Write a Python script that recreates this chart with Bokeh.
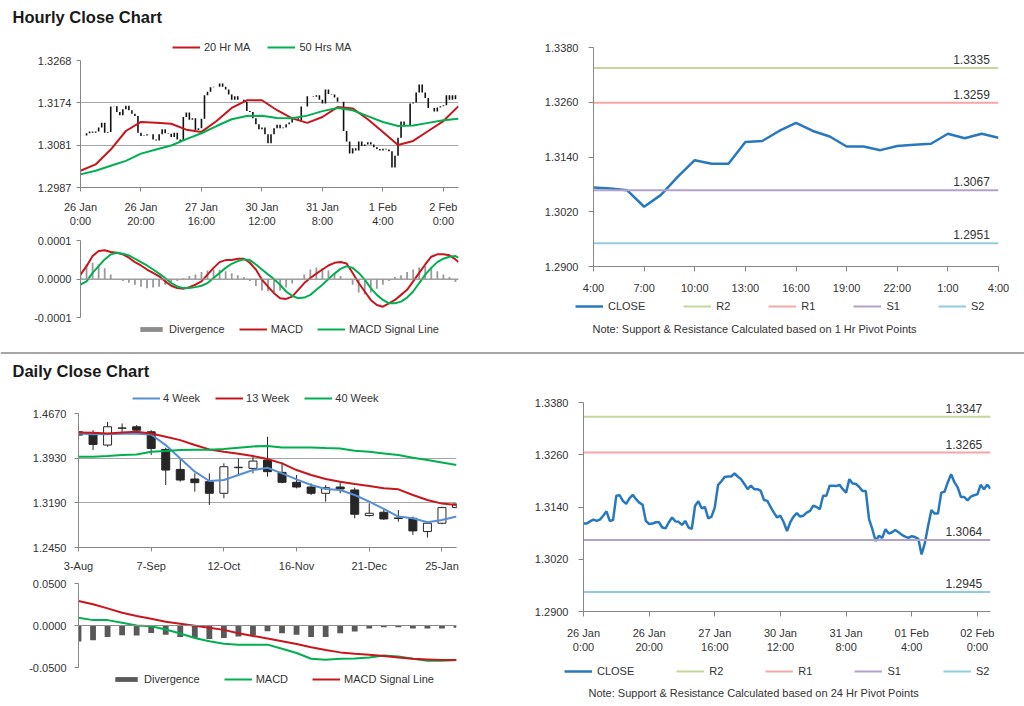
from bokeh.plotting import figure
from bokeh.models import Range1d, NumeralTickFormatter, Legend, LegendItem, Span, Label
from bokeh.layouts import column, row
from bokeh.embed import file_html
from bokeh.resources import INLINE
from bokeh.core.properties import value

# ---------------- data: hourly ----------------
hourly_close = [
    1.3102, 1.3102, 1.3107, 1.3111, 1.3108, 1.3111, 1.3120, 1.3130, 1.3108, 1.3110,
    1.3166, 1.3167, 1.3154, 1.3147, 1.3160, 1.3168, 1.3158, 1.3150, 1.3145, 1.3108,
    1.3101, 1.3102, 1.3105, 1.3105, 1.3093, 1.3091, 1.3105, 1.3116, 1.3107, 1.3106,
    1.3099, 1.3108, 1.3093, 1.3090, 1.3143, 1.3153, 1.3137, 1.3140, 1.3114, 1.3118,
    1.3139, 1.3191, 1.3199, 1.3209, 1.3210, 1.3210, 1.3217, 1.3210, 1.3204, 1.3193,
    1.3181, 1.3189, 1.3181, 1.3181, 1.3177, 1.3156, 1.3154, 1.3140, 1.3127, 1.3116,
    1.3120, 1.3105, 1.3085, 1.3105, 1.3118, 1.3126, 1.3118, 1.3120, 1.3127, 1.3131,
    1.3143, 1.3140, 1.3135, 1.3166, 1.3166, 1.3189, 1.3189, 1.3188, 1.3191, 1.3181,
    1.3173, 1.3204, 1.3194, 1.3193, 1.3186, 1.3177, 1.3177, 1.3112, 1.3089, 1.3062,
    1.3074, 1.3069, 1.3089, 1.3079, 1.3082, 1.3087, 1.3082, 1.3076, 1.3072, 1.3069,
    1.3073, 1.3071, 1.3067, 1.3031, 1.3057, 1.3097, 1.3133, 1.3125, 1.3125, 1.3173,
    1.3175, 1.3197, 1.3215, 1.3197, 1.3185, 1.3163, 1.3163, 1.3155, 1.3164, 1.3167,
    1.3169, 1.3191, 1.3181, 1.3191, 1.3182,
]
hourly_hours = list(range(len(hourly_close)))
hourly_tick_hours = [0, 20, 40, 60, 80, 100, 120]
hourly_labels_a = ["26 Jan\n0:00", "26 Jan\n20:00", "27 Jan\n16:00", "30 Jan\n12:00",
                   "31 Jan\n8:00", "1 Feb\n4:00", "2 Feb\n0:00"]
hourly_labels_f = ["26 Jan\n0:00", "26 Jan\n20:00", "27 Jan\n16:00", "30 Jan\n12:00",
                   "31 Jan\n8:00", "01 Feb\n4:00", "02 Feb\n0:00"]
hourly_price_ticks = [1.2987, 1.3081, 1.3174, 1.3268]

ma_hours = [0, 5, 10, 15, 20, 25, 30, 35, 40, 45, 50, 55, 60, 65, 70, 75, 80, 85, 90,
            95, 100, 105, 110, 115, 120, 125]
ma20 = [1.3024, 1.3038, 1.3071, 1.3112, 1.3132, 1.3130, 1.3128, 1.3115, 1.3110, 1.3134,
        1.3163, 1.3180, 1.3180, 1.3158, 1.3140, 1.3130, 1.3143, 1.3165, 1.3162, 1.3138,
        1.3110, 1.3081, 1.3090, 1.3112, 1.3134, 1.3167]
ma50 = [1.3016, 1.3024, 1.3035, 1.3046, 1.3062, 1.3071, 1.3080, 1.3094, 1.3107, 1.3123,
        1.3138, 1.3145, 1.3146, 1.3141, 1.3140, 1.3146, 1.3156, 1.3163, 1.3158, 1.3145,
        1.3132, 1.3123, 1.3124, 1.3130, 1.3136, 1.3139]

# MACD values in units of 0.0001
macd_hours = list(range(0, 125, 2)) + [125]
macd_h = [0.114, 0.333, 0.596, 0.728, 0.746, 0.702, 0.684, 0.640, 0.553, 0.439,
          0.351, 0.246, 0.158, 0.070, -0.061, -0.175, -0.237, -0.254, -0.211, -0.149,
          -0.061, 0.114, 0.289, 0.439, 0.491, 0.491, 0.526, 0.526, 0.421, 0.246,
          -0.018, -0.200, -0.368, -0.500, -0.518, -0.456, -0.281, -0.105, 0.026, 0.140,
          0.246, 0.351, 0.421, 0.439, 0.404, 0.158, -0.105, -0.325, -0.544, -0.675,
          -0.719, -0.632, -0.544, -0.412, -0.281, -0.061, 0.158, 0.377, 0.579, 0.640,
          0.640, 0.614, 0.509, 0.440]
signal_h = [-0.149, -0.061, 0.158, 0.333, 0.509, 0.640, 0.684, 0.658, 0.614, 0.526,
            0.439, 0.351, 0.246, 0.140, 0.026, -0.105, -0.193, -0.237, -0.237, -0.211,
            -0.175, -0.105, 0.026, 0.158, 0.289, 0.395, 0.465, 0.509, 0.491, 0.377,
            0.246, 0.120, 0.000, -0.149, -0.325, -0.439, -0.500, -0.482, -0.412, -0.281,
            -0.149, 0.000, 0.140, 0.263, 0.333, 0.289, 0.158, -0.018, -0.237, -0.412,
            -0.544, -0.632, -0.632, -0.588, -0.482, -0.325, -0.105, 0.114, 0.289, 0.439,
            0.526, 0.579, 0.596, 0.553]
div_hours = list(range(0, 125, 2))
divergence_h = [0.15, 0.38, 0.42, 0.38, 0.28, 0.12, 0.0, -0.05, -0.1, -0.15,
                -0.2, -0.24, -0.22, -0.2, -0.15, -0.1, -0.05, 0.02, 0.08, 0.12,
                0.18, 0.22, 0.25, 0.24, 0.2, 0.15, 0.1, 0.05, -0.05, -0.18,
                -0.3, -0.32, -0.35, -0.3, -0.22, -0.12, 0.0, 0.12, 0.25, 0.3,
                0.28, 0.22, 0.15, 0.08, 0.0, -0.15, -0.35, -0.4, -0.35, -0.25,
                -0.15, -0.05, 0.05, 0.1, 0.18, 0.25, 0.3, 0.33, 0.3, 0.2,
                0.12, 0.05, -0.08]
macd_ticks = [-1, 0, 1]
macd_tick_labels = ["-0.0001", "0.0000", "0.0001"]

# last 24 hours (1 Feb 4:00 -> 2 Feb 4:00)
last24_close = hourly_close[100:]
last24_hours = list(range(len(last24_close)))
last24_ticks = [0, 3, 6, 9, 12, 15, 18, 21, 24]
last24_labels = ["4:00", "7:00", "10:00", "13:00", "16:00", "19:00", "22:00", "1:00", "4:00"]

pivot_names = ["R2", "R1", "S1", "S2"]
pivot_1h = [1.3335, 1.3259, 1.3067, 1.2951]
pivot_24h = [1.3347, 1.3265, 1.3064, 1.2945]
pivot_ticks = [1.2900, 1.3020, 1.3140, 1.3260, 1.3380]

# ---------------- data: weekly ----------------
weeks = list(range(27))
week_ticks = [0, 5, 10, 15, 20, 25]
week_labels = ["3-Aug", "7-Sep", "12-Oct", "16-Nov", "21-Dec", "25-Jan"]
w_open = [1.4367, 1.4339, 1.4147, 1.4425, 1.4450, 1.4367, 1.4075, 1.3744, 1.3585, 1.3540,
          1.3348, 1.3772, 1.3761, 1.3899, 1.3695, 1.3530, 1.3452, 1.3348, 1.3452, 1.3403,
          1.2979, 1.3034, 1.2940, 1.2934, 1.2714, 1.2852, 1.3111]
w_high = [1.4450, 1.4394, 1.4532, 1.4505, 1.4477, 1.4394, 1.4103, 1.3926, 1.3678, 1.3678,
          1.3844, 1.3926, 1.3981, 1.4284, 1.3860, 1.3651, 1.3513, 1.3485, 1.3552, 1.3441,
          1.3182, 1.3100, 1.3072, 1.2962, 1.2879, 1.3127, 1.3182]
w_low = [1.4147, 1.4064, 1.4119, 1.4339, 1.4356, 1.3981, 1.3485, 1.3540, 1.3375, 1.3155,
         1.3265, 1.3651, 1.3678, 1.3623, 1.3513, 1.3430, 1.3320, 1.3210, 1.3348, 1.2934,
         1.2962, 1.2907, 1.2879, 1.2659, 1.2615, 1.2835, 1.3100]
w_close = [1.4312, 1.4158, 1.4450, 1.4431, 1.4394, 1.4091, 1.3733, 1.3568, 1.3524, 1.3348,
           1.3788, 1.3780, 1.3882, 1.3706, 1.3530, 1.3452, 1.3348, 1.3441, 1.3419, 1.3001,
           1.3017, 1.2923, 1.2930, 1.2725, 1.2852, 1.3111, 1.3171]
ma4w = [1.4339, 1.4328, 1.4328, 1.4334, 1.4334, 1.4323, 1.4147, 1.3926, 1.3706, 1.3552,
        1.3568, 1.3651, 1.3733, 1.3772, 1.3678, 1.3579, 1.3485, 1.3419, 1.3403, 1.3320,
        1.3210, 1.3089, 1.2962, 1.2934, 1.2868, 1.2907, 1.2962]
ma13w = [1.4356, 1.4350, 1.4339, 1.4356, 1.4367, 1.4339, 1.4284, 1.4229, 1.4147, 1.4075,
         1.4036, 1.4003, 1.3965, 1.3915, 1.3844, 1.3733, 1.3651, 1.3585, 1.3540, 1.3502,
         1.3469, 1.3430, 1.3414, 1.3320, 1.3237, 1.3177, 1.3155]
ma40w = [1.3954, 1.3954, 1.3965, 1.3981, 1.3992, 1.4036, 1.4047, 1.4064, 1.4069, 1.4069,
         1.4080, 1.4103, 1.4125, 1.4130, 1.4108, 1.4108, 1.4108, 1.4097, 1.4091, 1.4053,
         1.4036, 1.4009, 1.3981, 1.3937, 1.3899, 1.3860, 1.3816]
daily_ticks = [1.2450, 1.3190, 1.3930, 1.4670]

macd_w = [0.0092, 0.0064, 0.0064, 0.0032, 0.0, -0.0008, -0.0048, -0.0096, -0.0148, -0.0188,
          -0.0216, -0.0228, -0.0228, -0.0228, -0.0276, -0.0328, -0.0396, -0.0408, -0.0396,
          -0.0392, -0.0380, -0.0356, -0.0368, -0.0396, -0.0420, -0.0420, -0.0412]
signal_w = [0.0292, 0.0252, 0.0204, 0.0152, 0.0112, 0.0080, 0.0044, 0.0020, -0.0004, -0.0028,
            -0.0052, -0.0092, -0.0124, -0.0156, -0.0188, -0.0220, -0.0260, -0.0292, -0.0320,
            -0.0336, -0.0348, -0.0364, -0.0380, -0.0396, -0.0404, -0.0412, -0.0412]
divergence_w = [-0.0190, -0.0176, -0.0136, -0.0116, -0.0120, -0.0088, -0.0110, -0.0136,
                -0.0148, -0.0160, -0.0148, -0.0132, -0.0116, -0.0068, -0.0092, -0.0110,
                -0.0136, -0.0136, -0.0092, -0.0072, -0.0036, -0.0020, -0.0020, -0.0036,
                -0.0036, -0.0036, -0.0028]
daily_macd_ticks = [-0.05, 0.0, 0.05]

# ---------------- styles ----------------
FONT = "Liberation Sans"
TXT = "#333333"
AXIS = "#868686"
GRID = "#A6A6A6"
RED = "#C8161D"
GREEN = "#00B050"
BLUE = "#2878BE"
BLUE4 = "#558ED5"
HDIV = "#9A9A9A"
DDIV = "#595959"
PIVOT_COLORS = ["#C3D69B", "#F4A7A7", "#B3A2C7", "#93CDDD"]
NAN = float("nan")


def make_fig(w, h, left, right, top, bottom, xr, yr, xaxis=True):
    p = figure(width=w, height=h, x_range=Range1d(*xr), y_range=Range1d(*yr),
               output_backend="svg", toolbar_location=None, frame_align=False,
               min_border_left=left, min_border_right=right,
               min_border_top=top, min_border_bottom=bottom,
               x_axis_location=("below" if xaxis else None))
    p.outline_line_color = None
    p.border_fill_color = "white"
    p.background_fill_color = "white"
    p.xgrid.visible = False
    p.ygrid.grid_line_color = GRID
    for ax in p.axis:
        ax.axis_line_color = AXIS
        ax.major_tick_line_color = AXIS
        ax.minor_tick_line_color = None
        ax.major_tick_in = 0
        ax.major_tick_out = 4
        ax.major_label_text_font = FONT
        ax.major_label_text_font_size = "11px"
        ax.major_label_text_color = TXT
    return p


def strip(w, h):
    p = figure(width=w, height=h, x_range=Range1d(0, w), y_range=Range1d(h, 0),
               output_backend="svg", toolbar_location=None, min_border=0, frame_align=False,
               x_axis_location=None, y_axis_location=None)
    p.outline_line_color = None
    p.border_fill_color = "white"
    p.background_fill_color = "white"
    for g in p.grid:
        g.visible = False
    return p


def strip_text(p, x, y, txt, size, bold=False, color="#1a1a1a"):
    p.add_layout(Label(x=x, y=y, text=txt, text_font=FONT, text_font_size=size,
                       text_font_style=("bold" if bold else "normal"), text_color=color,
                       text_baseline="middle", text_align="left"))


def legend_strip(w, h, entries, loc, spacing, standoff=4, glyph_h=12, label_w=20):
    # legend-only strip: swatch renderers carry a single NaN point (never drawn)
    s = strip(w, h)
    items = []
    for label, kind, color, lw in entries:
        if kind == "bar":
            r = s.vbar(x=[NAN], top=[NAN], bottom=[NAN], width=1, fill_color=color,
                       line_color=None)
        else:
            r = s.line(x=[NAN], y=[NAN], line_color=color, line_width=lw)
        items.append(LegendItem(label=label, renderers=[r]))
    lg = Legend(items=items, location=loc, orientation="horizontal",
                border_line_color=None, background_fill_alpha=0,
                padding=0, margin=0, spacing=spacing,
                glyph_width=28, glyph_height=glyph_h, label_standoff=standoff,
                label_text_font=FONT, label_text_font_size="11px",
                label_text_color=TXT, label_height=12, label_width=label_w)
    s.add_layout(lg)
    return s


# ---------------- Fig A: hourly price ----------------
legA = legend_strip(470, 23, [("20 Hr MA", "line", RED, 2), ("50 Hrs MA", "line", GREEN, 2)],
                    (172, 0.5), 17)
pA = make_fig(470, 179, 80, 12, 7, 45, (0, 125), (hourly_price_ticks[0], hourly_price_ticks[-1]))
pA.yaxis.ticker = hourly_price_ticks
pA.yaxis.formatter = NumeralTickFormatter(format="0.0000")
pA.yaxis.major_label_standoff = 5
pA.xaxis.ticker = hourly_tick_hours
pA.xaxis.major_label_overrides = dict(zip(hourly_tick_hours, hourly_labels_a))
pA.xaxis.major_label_standoff = 9
hourly_open = [hourly_close[0]] + hourly_close[:-1]
pA.segment(x0=hourly_hours, y0=hourly_open, x1=hourly_hours, y1=hourly_close,
           line_color="#111111", line_width=1.6)
pA.line(ma_hours, ma20, line_color=RED, line_width=2)
pA.line(ma_hours, ma50, line_color=GREEN, line_width=2)

# ---------------- Fig B: hourly MACD ----------------
pB = make_fig(470, 92, 80, 12, 8, 7, (0, 125), (macd_ticks[0], macd_ticks[-1]), xaxis=False)
pB.yaxis.ticker = macd_ticks
pB.yaxis.major_label_overrides = dict(zip(macd_ticks, macd_tick_labels))
pB.yaxis.major_label_standoff = 5
pB.vbar(x=div_hours, top=divergence_h, bottom=0, width=0.6, fill_color=HDIV, line_color=None)
pB.add_layout(Span(location=0, dimension="width", line_color=HDIV, line_width=1))
pB.line(macd_hours, macd_h, line_color=RED, line_width=2)
pB.line(macd_hours, signal_h, line_color=GREEN, line_width=2)
legB = legend_strip(470, 26, [("Divergence", "bar", "#8C8C8C", 0), ("MACD", "line", RED, 2),
                              ("MACD Signal Line", "line", GREEN, 2)], (137, 15.5), 14, glyph_h=6)

# ---------------- Fig C: last 24h pivots ----------------
pC = make_fig(554, 269, 123, 26, 17, 33, (last24_hours[0], last24_hours[-1]),
              (pivot_ticks[0], pivot_ticks[-1]))
pC.ygrid.visible = False
pC.yaxis.ticker = pivot_ticks
pC.yaxis.formatter = NumeralTickFormatter(format="0.0000")
pC.yaxis.major_tick_out = 5
pC.yaxis.major_label_standoff = 10
pC.xaxis.ticker = last24_ticks
pC.xaxis.major_label_overrides = dict(zip(last24_ticks, last24_labels))
pC.xaxis.major_tick_out = 5
pC.xaxis.major_label_standoff = 10
pC.line(last24_hours, last24_close, line_color=BLUE, line_width=2.5)
for lvl, col in zip(pivot_1h, PIVOT_COLORS):
    pC.line([last24_hours[0], last24_hours[-1]], [lvl, lvl], line_color=col, line_width=2)
pC.text(x=[last24_hours[-1] - 1.6] * len(pivot_1h), y=pivot_1h,
        text=["%.4f" % v for v in pivot_1h], text_font=value(FONT),
        text_font_size=value("12px"), text_color=TXT, text_align="center",
        text_baseline="bottom", y_offset=-4)
legC = legend_strip(554, 18, [("CLOSE", "line", BLUE, 2.5)] +
                    [(n, "line", c, 2) for n, c in zip(pivot_names, PIVOT_COLORS)],
                    (105, 5), 38, standoff=5, label_w=12)
noteC = strip(554, 33)
strip_text(noteC, 122, 11, "Note: Support & Resistance Calculated based on 1 Hr Pivot Points",
           "11px", color=TXT)

# ---------------- Fig D: weekly candles ----------------
legD = legend_strip(470, 24, [("4 Week", "line", BLUE4, 2), ("13 Week", "line", RED, 2),
                              ("40 Week", "line", GREEN, 2)], (132, 3.8), 15, standoff=3)
pD = make_fig(470, 167, 78, 14, 5, 28, (weeks[0], weeks[-1]), (daily_ticks[0], daily_ticks[-1]))
pD.yaxis.ticker = daily_ticks
pD.yaxis.formatter = NumeralTickFormatter(format="0.0000")
pD.yaxis.major_label_standoff = 8
pD.xaxis.ticker = week_ticks
pD.xaxis.major_label_overrides = dict(zip(week_ticks, week_labels))
pD.xaxis.major_label_standoff = 8
pD.segment(x0=weeks, y0=w_low, x1=weeks, y1=w_high, line_color="#262626", line_width=1)
body_top = [max(o, c) for o, c in zip(w_open, w_close)]
body_bot = [min(o, c) for o, c in zip(w_open, w_close)]
body_fill = ["white" if c >= o else "#262626" for o, c in zip(w_open, w_close)]
pD.vbar(x=weeks, top=body_top, bottom=body_bot, width=0.55, fill_color=body_fill,
        line_color="#262626", line_width=1)
pD.line(weeks, ma4w, line_color=BLUE4, line_width=2)
pD.line(weeks, ma13w, line_color=RED, line_width=2)
pD.line(weeks, ma40w, line_color=GREEN, line_width=2)

# ---------------- Fig E: weekly MACD ----------------
pE = make_fig(470, 99, 78, 14, 8, 7, (weeks[0], weeks[-1]),
              (daily_macd_ticks[0], daily_macd_ticks[-1]), xaxis=False)
pE.yaxis.ticker = daily_macd_ticks
pE.yaxis.formatter = NumeralTickFormatter(format="0.0000")
pE.yaxis.major_label_standoff = 8
pE.vbar(x=weeks, top=divergence_w, bottom=0, width=0.4, fill_color=DDIV, line_color=None)
pE.add_layout(Span(location=0, dimension="width", line_color="#8C8C8C", line_width=1))
pE.line(weeks, macd_w, line_color=GREEN, line_width=2)
pE.line(weeks, signal_w, line_color=RED, line_width=2)
legE = legend_strip(470, 28, [("Divergence", "bar", DDIV, 0), ("MACD", "line", GREEN, 2),
                              ("MACD Signal Line", "line", RED, 2)], (112, 17.5), 24, glyph_h=6)

# ---------------- Fig F: hourly close with 24h pivots ----------------
pF = make_fig(554, 276, 113, 34, 18, 49, (hourly_hours[0], hourly_hours[-1]),
              (pivot_ticks[0], pivot_ticks[-1]))
pF.ygrid.visible = False
pF.yaxis.ticker = pivot_ticks
pF.yaxis.formatter = NumeralTickFormatter(format="0.0000")
pF.yaxis.major_tick_out = 5
pF.yaxis.major_label_standoff = 10
pF.xaxis.ticker = hourly_tick_hours
pF.xaxis.major_label_overrides = dict(zip(hourly_tick_hours, hourly_labels_f))
pF.xaxis.major_tick_out = 5
pF.xaxis.major_label_standoff = 10
pF.line(hourly_hours, hourly_close, line_color=BLUE, line_width=2.5)
for lvl, col in zip(pivot_24h, PIVOT_COLORS):
    pF.line([hourly_hours[0], hourly_hours[-1]], [lvl, lvl], line_color=col, line_width=2)
pF.text(x=[hourly_hours[-1] - 8.1] * len(pivot_24h), y=pivot_24h,
        text=["%.4f" % v for v in pivot_24h], text_font=value(FONT),
        text_font_size=value("12px"), text_color=TXT, text_align="center",
        text_baseline="bottom", y_offset=-4)
legF = legend_strip(554, 20, [("CLOSE", "line", BLUE, 2.5)] +
                    [(n, "line", c, 2) for n, c in zip(pivot_names, PIVOT_COLORS)],
                    (94, 3.5), 42, standoff=5, label_w=12)
noteF = strip(554, 22)
strip_text(noteF, 118, 12, "Note: Support & Resistance Calculated based on 24 Hr Pivot Points",
           "11px", color=TXT)

# ---------------- page layout ----------------
head1 = strip(1024, 30)
strip_text(head1, 12, 16, "Hourly Close Chart", "16.5px", bold=True)
head2 = strip(1024, 34)
head2.add_layout(Span(location=2.5, dimension="width", line_color="#A6A6A6", line_width=2))
strip_text(head2, 12, 20, "Daily Close Chart", "16.5px", bold=True)
foot = strip(1024, 3)
foot.add_layout(Span(location=1.5, dimension="width", line_color="#A6A6A6", line_width=2))

layout = column(
    head1,
    row(column(legA, pA, pB, legB), column(pC, legC, noteC)),
    head2,
    row(column(legD, pD, pE, legE), column(pF, legF, noteF)),
    foot,
)

open("out.html", "w").write(file_html(layout, INLINE))
